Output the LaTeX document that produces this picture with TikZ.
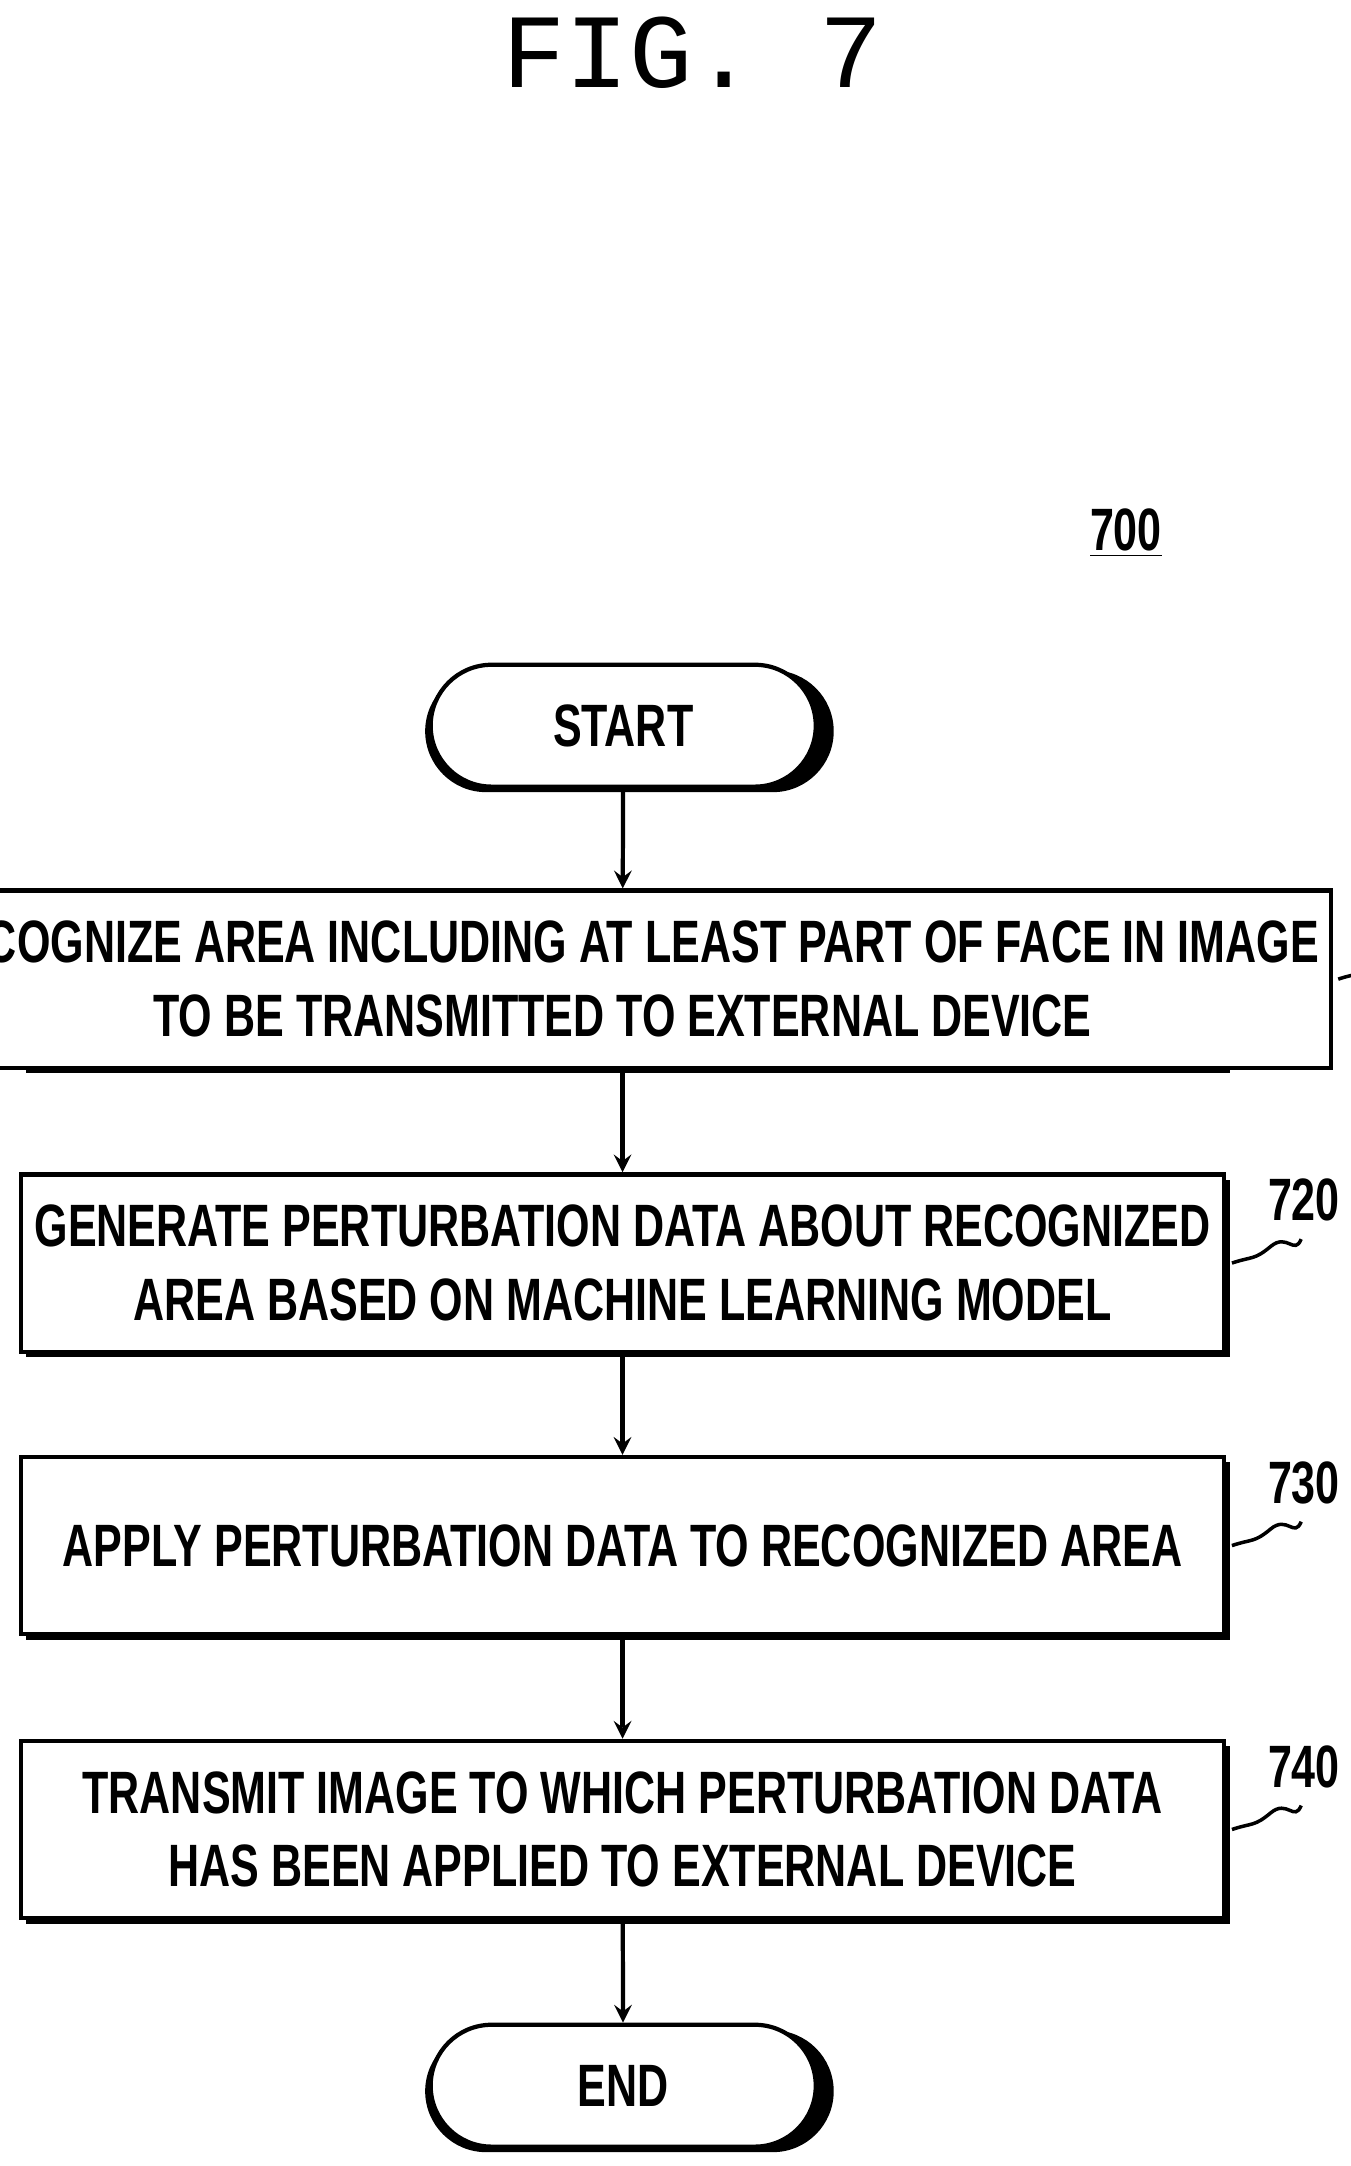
\documentclass[tikz,border=0pt]{standalone}
\usepackage{fontspec}
\setmainfont{Liberation Sans}[FakeStretch=0.72]
\setmonofont{Liberation Mono}
\usetikzlibrary{positioning,shapes,calc}

\newcommand{\pu}{0.013846cm}
\tikzset{
  box/.style={draw,line width=1.2pt,fill=white,minimum width=869*\pu,minimum height=128*\pu,
    align=center,font=\fontsize{17}{21}\selectfont\bfseries},
  term/.style={draw,line width=1.2pt,fill=white,rounded rectangle,minimum width=295*\pu,
    minimum height=88*\pu,font=\fontsize{17}{21}\selectfont\bfseries},
  flow/.style={->,>=stealth,line width=1.2pt},
  tag/.style={font=\fontsize{17}{21}\selectfont\bfseries}
}

\begin{document}
\begin{tikzpicture}[x=0.013846cm,y=-0.013846cm]
\useasboundingbox (0,0) rectangle (975,1564);
\node[font=\ttfamily\fontsize{30}{30}\selectfont] (fig) at (500,38) {FIG. 7};
\node[tag] (num) at (813,385) {\underline{700}};

% shadows
\foreach \y in {524,1506}
  \fill[rounded corners=44*\pu] (450-147+4,\y-44+4) rectangle ++(295,88);
\foreach \y in {707,912,1116,1321}
  \fill (15+4,\y-64+4) rectangle ++(869,128);

\node[term] (start) at (450,524) {START};
\node[box] (s710) at (449.5,707) {RECOGNIZE AREA INCLUDING AT LEAST PART OF FACE IN IMAGE\\TO BE TRANSMITTED TO EXTERNAL DEVICE};
\node[box] (s720) at (449.5,912) {GENERATE PERTURBATION DATA ABOUT RECOGNIZED\\AREA BASED ON MACHINE LEARNING MODEL};
\node[box] (s730) at (449.5,1116) {APPLY PERTURBATION DATA TO RECOGNIZED AREA};
\node[box] (s740) at (449.5,1321) {TRANSMIT IMAGE TO WHICH PERTURBATION DATA\\HAS BEEN APPLIED TO EXTERNAL DEVICE};
\node[term] (end) at (450,1506) {END};

\draw[flow] (start) -- (s710);
\draw[flow] (s710) -- (s720);
\draw[flow] (s720) -- (s730);
\draw[flow] (s730) -- (s740);
\draw[flow] (s740) -- (end);

% reference numbers
\foreach \s in {710,720,730,740}{
  \node[tag] (l\s) at ($(s\s.north east)+(56,20)$) {\s};
  \draw[line width=1pt] ($(s\s.east)+(4,0)$) .. controls +(15,-5) and +(-12,10) .. ++(28,-12)
     .. controls +(12,-10) and +(-5,12) .. ($(l\s.south)+(-2,4)$);
}
\end{tikzpicture}
\end{document}
